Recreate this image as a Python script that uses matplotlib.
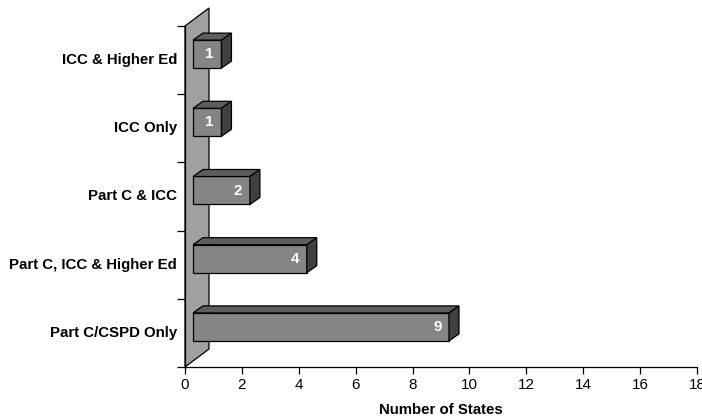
import matplotlib
matplotlib.use("Agg")
import matplotlib.pyplot as plt
from matplotlib.patches import Polygon

plt.rcParams['font.family'] = ['Liberation Sans', 'DejaVu Sans']

categories = ["Part C/CSPD Only", "Part C, ICC & Higher Ed", "Part C & ICC", "ICC Only", "ICC & Higher Ed"]
values = [9, 4, 2, 1, 1]
xticks = list(range(0, 19, 2))

W, H = 702, 419
fig = plt.figure(figsize=(W / 100, H / 100), dpi=100)
ax_l, ax_r, ax_b, ax_t = 185, 697, 367, 26
ax = fig.add_axes([ax_l / W, (H - ax_b) / H, (ax_r - ax_l) / W, (ax_b - ax_t) / H])
ax.set_xlim(0, 18)
ax.set_ylim(0, len(categories))

pxx = 18 / (ax_r - ax_l)
pxy = len(categories) / (ax_b - ax_t)

# back wall
wdx, wdy = 24 * pxx, 18 * pxy
wall = Polygon([(0, 0), (wdx, wdy), (wdx, len(categories) + wdy), (0, len(categories))],
               closed=True, facecolor="#a0a0a0", edgecolor="black", linewidth=0.9,
               clip_on=False, zorder=1)
ax.add_patch(wall)

# bars
ox, oy = 8 * pxx, 6 * pxy
ddx, ddy = 10 * pxx, 7 * pxy
bh = 28 * pxy
for i, v in enumerate(values):
    yc = i + 0.5 + oy
    x0, x1 = ox, v + ox
    y0, y1 = yc - bh / 2, yc + bh / 2
    front = Polygon([(x0, y0), (x1, y0), (x1, y1), (x0, y1)], closed=True,
                    facecolor="#858585", edgecolor="black", linewidth=0.9, clip_on=False, zorder=3)
    top = Polygon([(x0, y1), (x1, y1), (x1 + ddx, y1 + ddy), (x0 + ddx, y1 + ddy)], closed=True,
                  facecolor="#5e5e5e", edgecolor="black", linewidth=0.9, clip_on=False, zorder=3)
    side = Polygon([(x1, y0), (x1 + ddx, y0 + ddy), (x1 + ddx, y1 + ddy), (x1, y1)], closed=True,
                   facecolor="#404040", edgecolor="black", linewidth=0.9, clip_on=False, zorder=3)
    for p in (front, top, side):
        ax.add_patch(p)
    ax.text(x1 - 7.5 * pxx, yc, str(v), ha="right", va="center", color="white",
            fontsize=11, fontweight="bold", zorder=4)

# axes styling
for s in ("top", "right"):
    ax.spines[s].set_visible(False)
ax.spines["left"].set_linewidth(0.9)
ax.spines["bottom"].set_linewidth(0.9)
ax.set_xticks(xticks)
ax.set_xticklabels([str(t) for t in xticks], fontsize=11)
ax.tick_params(axis="x", direction="out", length=5, width=0.9, pad=3)
ax.set_yticks(range(len(categories) + 1))
ax.set_yticklabels([])
ax.tick_params(axis="y", direction="out", length=6, width=0.9)
for i, c in enumerate(categories):
    ax.text(-8 * pxx, i + 0.5, c, ha="right", va="center", fontsize=10.8,
            fontweight="bold", transform=ax.transData)
ax.set_xlabel("Number of States", fontsize=10.8, fontweight="bold", labelpad=8)
ax.set_facecolor("none")

fig.savefig("out.png", dpi=100)
